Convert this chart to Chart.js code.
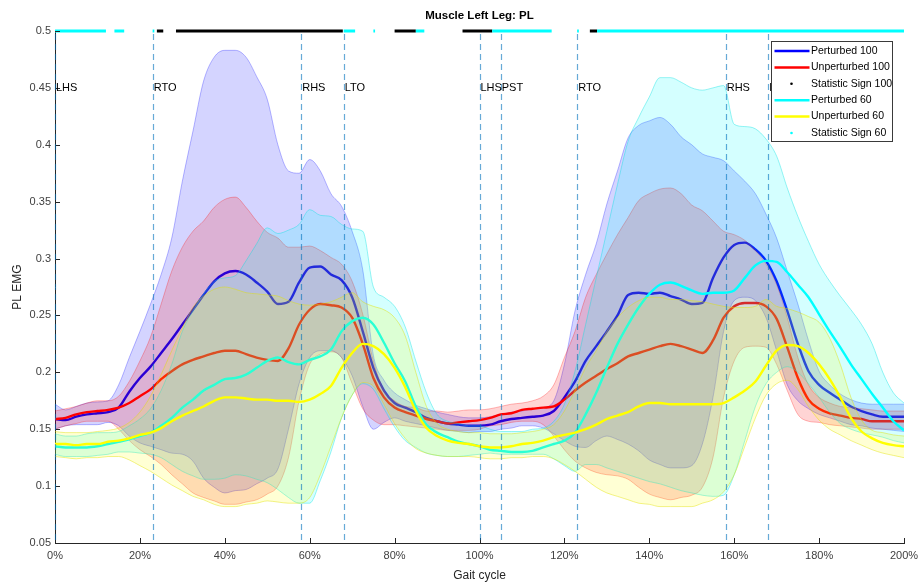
<!DOCTYPE html>
<html>
<head>
<meta charset="utf-8">
<script src="https://cdn.jsdelivr.net/npm/chart.js@4.4.1/dist/chart.umd.min.js"></script>
<style>
  html, body { margin: 0; padding: 0; background: #fff; }
  canvas { display: block; }
</style>
</head>
<body>
<canvas id="emg" width="921" height="588"></canvas>
<script>
// Gait cycle samples (% of cycle, two strides)
const gaitPct = [
  0, 2.5, 5, 7.5, 10, 12.5, 15, 17.5, 20, 22.5,
  25, 27.5, 30, 32.5, 35, 37.5, 40, 42.5, 45, 47.5,
  50, 52.5, 55, 57.5, 60, 62.5, 65, 67.5, 70, 72.5,
  75, 77.5, 80, 82.5, 85, 87.5, 90, 92.5, 95, 97.5,
  100, 102.5, 105, 107.5, 110, 112.5, 115, 117.5, 120, 122.5,
  125, 127.5, 130, 132.5, 135, 137.5, 140, 142.5, 145, 147.5,
  150, 152.5, 155, 157.5, 160, 162.5, 165, 167.5, 170, 172.5,
  175, 177.5, 180, 182.5, 185, 187.5, 190, 192.5, 195, 197.5,
  200
];

// Mean PL EMG envelopes
const perturbed100 = [
  0.159,0.158,0.161,0.163,0.164,0.165,0.169,0.183,0.195,0.205,
  0.217,0.229,0.242,0.255,0.268,0.280,0.287,0.289,0.286,0.279,
  0.271,0.260,0.262,0.279,0.292,0.293,0.286,0.281,0.266,0.236,
  0.204,0.184,0.173,0.169,0.165,0.160,0.157,0.155,0.154,0.153,
  0.153,0.154,0.157,0.159,0.160,0.161,0.162,0.166,0.178,0.192,
  0.210,0.223,0.236,0.250,0.268,0.270,0.269,0.270,0.267,0.264,
  0.260,0.261,0.283,0.301,0.312,0.314,0.308,0.298,0.280,0.254,
  0.225,0.201,0.189,0.182,0.176,0.170,0.166,0.163,0.161,0.161,
  0.161
];
const unperturbed100 = [
  0.159,0.160,0.163,0.165,0.166,0.167,0.169,0.173,0.179,0.185,
  0.194,0.201,0.207,0.211,0.214,0.217,0.219,0.219,0.216,0.213,
  0.211,0.210,0.221,0.242,0.255,0.260,0.259,0.257,0.248,0.225,
  0.195,0.178,0.169,0.165,0.162,0.159,0.157,0.155,0.156,0.157,
  0.158,0.160,0.163,0.164,0.167,0.168,0.169,0.170,0.176,0.184,
  0.191,0.197,0.203,0.208,0.214,0.217,0.220,0.223,0.225,0.223,
  0.220,0.217,0.228,0.248,0.258,0.261,0.261,0.258,0.247,0.222,
  0.195,0.176,0.168,0.164,0.162,0.160,0.159,0.157,0.157,0.157,
  0.157
];
const perturbed60 = [
  0.135,0.134,0.134,0.134,0.135,0.137,0.139,0.141,0.144,0.147,
  0.153,0.160,0.169,0.176,0.184,0.189,0.194,0.195,0.198,0.204,
  0.210,0.213,0.209,0.207,0.211,0.214,0.220,0.236,0.245,0.248,
  0.242,0.226,0.208,0.192,0.170,0.154,0.147,0.143,0.139,0.137,
  0.135,0.132,0.131,0.130,0.130,0.131,0.134,0.137,0.140,0.147,
  0.163,0.182,0.204,0.225,0.242,0.257,0.269,0.277,0.279,0.276,
  0.272,0.269,0.270,0.270,0.272,0.283,0.294,0.298,0.297,0.288,
  0.277,0.266,0.251,0.236,0.222,0.207,0.194,0.181,0.169,0.157,
  0.149
];
const unperturbed60 = [
  0.137,0.137,0.136,0.137,0.137,0.139,0.140,0.142,0.145,0.147,
  0.151,0.157,0.162,0.166,0.170,0.175,0.178,0.178,0.177,0.176,
  0.176,0.175,0.175,0.174,0.176,0.181,0.188,0.204,0.217,0.225,
  0.223,0.216,0.204,0.187,0.166,0.151,0.144,0.140,0.138,0.137,
  0.135,0.134,0.134,0.135,0.137,0.138,0.140,0.143,0.145,0.147,
  0.150,0.154,0.159,0.162,0.165,0.170,0.173,0.173,0.172,0.172,
  0.172,0.172,0.172,0.173,0.178,0.184,0.192,0.206,0.219,0.224,
  0.223,0.217,0.207,0.194,0.178,0.160,0.148,0.142,0.138,0.136,
  0.135
];

// Variability bands (upper / lower bounds)
const perturbed100Upper = [
  0.172,0.167,0.170,0.173,0.174,0.175,0.189,0.213,0.236,0.260,
  0.286,0.318,0.368,0.412,0.456,0.477,0.483,0.483,0.477,0.460,
  0.440,0.400,0.377,0.375,0.387,0.377,0.357,0.346,0.324,0.290,
  0.215,0.193,0.182,0.176,0.171,0.168,0.165,0.163,0.161,0.160,
  0.160,0.161,0.163,0.165,0.166,0.168,0.169,0.175,0.207,0.254,
  0.286,0.313,0.348,0.377,0.406,0.417,0.421,0.424,0.418,0.407,
  0.400,0.392,0.389,0.386,0.377,0.368,0.357,0.339,0.318,0.289,
  0.260,0.228,0.201,0.189,0.181,0.176,0.173,0.172,0.172,0.172,
  0.172
];
const perturbed100Lower = [
  0.150,0.153,0.154,0.154,0.154,0.156,0.153,0.144,0.138,0.135,
  0.132,0.129,0.128,0.122,0.107,0.099,0.094,0.096,0.097,0.102,
  0.107,0.115,0.150,0.190,0.213,0.219,0.219,0.213,0.197,0.170,
  0.150,0.156,0.160,0.157,0.155,0.153,0.151,0.149,0.148,0.147,
  0.148,0.148,0.150,0.151,0.153,0.153,0.151,0.146,0.140,0.135,
  0.134,0.140,0.144,0.141,0.137,0.131,0.123,0.119,0.116,0.116,
  0.118,0.137,0.178,0.236,0.263,0.266,0.263,0.248,0.219,0.189,
  0.175,0.168,0.163,0.160,0.157,0.154,0.153,0.151,0.150,0.149,
  0.148
];
const unperturbed100Upper = [
  0.166,0.168,0.170,0.173,0.175,0.175,0.179,0.192,0.210,0.231,
  0.260,0.289,0.310,0.324,0.333,0.345,0.352,0.354,0.345,0.333,
  0.323,0.318,0.310,0.310,0.311,0.307,0.301,0.295,0.280,0.251,
  0.210,0.184,0.175,0.170,0.169,0.166,0.166,0.165,0.166,0.167,
  0.167,0.168,0.170,0.172,0.173,0.175,0.179,0.189,0.213,0.236,
  0.266,0.286,0.304,0.321,0.336,0.351,0.357,0.361,0.362,0.357,
  0.347,0.342,0.333,0.324,0.321,0.316,0.307,0.295,0.277,0.248,
  0.213,0.189,0.178,0.173,0.170,0.169,0.168,0.167,0.166,0.166,
  0.166
];
const unperturbed100Lower = [
  0.150,0.153,0.155,0.157,0.157,0.157,0.150,0.140,0.132,0.126,
  0.119,0.110,0.102,0.094,0.090,0.087,0.084,0.084,0.086,0.088,
  0.093,0.100,0.125,0.175,0.207,0.216,0.218,0.213,0.190,0.168,
  0.158,0.154,0.154,0.153,0.152,0.151,0.150,0.149,0.149,0.149,
  0.150,0.153,0.154,0.156,0.157,0.157,0.154,0.144,0.132,0.122,
  0.116,0.112,0.110,0.109,0.106,0.099,0.093,0.090,0.088,0.090,
  0.092,0.099,0.125,0.178,0.210,0.222,0.223,0.222,0.207,0.184,
  0.163,0.157,0.156,0.154,0.153,0.152,0.151,0.150,0.150,0.150,
  0.150
];
const perturbed60Upper = [
  0.146,0.144,0.144,0.146,0.147,0.147,0.148,0.153,0.159,0.168,
  0.184,0.207,0.236,0.254,0.269,0.280,0.283,0.285,0.298,0.313,
  0.327,0.322,0.325,0.330,0.343,0.338,0.337,0.330,0.326,0.324,
  0.275,0.266,0.258,0.240,0.210,0.182,0.163,0.157,0.155,0.153,
  0.153,0.150,0.148,0.148,0.148,0.150,0.151,0.157,0.172,0.201,
  0.242,0.283,0.324,0.365,0.403,0.424,0.442,0.459,0.459,0.455,
  0.450,0.448,0.450,0.452,0.418,0.416,0.414,0.405,0.390,0.362,
  0.337,0.315,0.295,0.280,0.267,0.255,0.242,0.225,0.200,0.182,
  0.173
];
const perturbed60Lower = [
  0.128,0.126,0.126,0.126,0.127,0.128,0.130,0.130,0.129,0.128,
  0.125,0.119,0.113,0.109,0.106,0.106,0.107,0.110,0.109,0.106,
  0.103,0.097,0.090,0.085,0.085,0.105,0.130,0.160,0.180,0.190,
  0.185,0.168,0.152,0.140,0.134,0.129,0.127,0.126,0.126,0.127,
  0.128,0.129,0.128,0.128,0.128,0.128,0.128,0.124,0.118,0.113,
  0.119,0.119,0.116,0.113,0.110,0.107,0.104,0.102,0.099,0.096,
  0.094,0.092,0.091,0.092,0.110,0.140,0.170,0.190,0.200,0.205,
  0.200,0.190,0.178,0.165,0.155,0.150,0.147,0.145,0.143,0.140,
  0.138
];
const unperturbed60Upper = [
  0.148,0.147,0.147,0.147,0.148,0.149,0.151,0.156,0.165,0.179,
  0.198,0.219,0.239,0.257,0.267,0.273,0.275,0.273,0.270,0.269,
  0.268,0.267,0.263,0.260,0.259,0.260,0.262,0.266,0.270,0.262,
  0.258,0.255,0.248,0.232,0.200,0.170,0.155,0.150,0.148,0.147,
  0.147,0.146,0.146,0.146,0.147,0.148,0.150,0.154,0.166,0.184,
  0.204,0.219,0.236,0.248,0.257,0.263,0.266,0.266,0.264,0.264,
  0.263,0.262,0.260,0.258,0.257,0.257,0.258,0.264,0.258,0.256,
  0.253,0.249,0.244,0.230,0.207,0.178,0.158,0.149,0.147,0.145,
  0.144
];
const unperturbed60Lower = [
  0.126,0.125,0.124,0.125,0.125,0.126,0.126,0.123,0.118,0.113,
  0.107,0.101,0.096,0.091,0.088,0.084,0.082,0.082,0.084,0.085,
  0.087,0.086,0.085,0.085,0.090,0.110,0.135,0.160,0.180,0.191,
  0.188,0.172,0.155,0.142,0.133,0.129,0.127,0.126,0.126,0.126,
  0.125,0.124,0.124,0.125,0.125,0.126,0.126,0.124,0.119,0.113,
  0.106,0.099,0.094,0.091,0.088,0.085,0.084,0.082,0.082,0.082,
  0.082,0.085,0.088,0.095,0.110,0.135,0.160,0.180,0.190,0.193,
  0.185,0.170,0.158,0.150,0.145,0.140,0.136,0.132,0.129,0.127,
  0.125
];

// Statistically significant stretches (% of cycle), marked along the top
const sig100Start = [24, 28.5, 80, 96, 126];
const sig100End   = [25.5, 67.8, 85, 103, 127.7];
const sig60Start  = [0, 14, 23, 68, 75, 85, 103, 123, 127.7];
const sig60End    = [12, 16.3, 23.4, 70.7, 75.4, 87, 117, 123.4, 200];
const sigLevel = 0.5;

// Gait events
const eventPct    = [0, 23, 58, 68, 100, 105, 123, 158, 168];
const eventLabels = ['LHS', 'RTO', 'RHS', 'LTO', 'LHS', 'PST', 'RTO', 'RHS', 'LTO'];
const eventLabelLevel = 0.45;

// Axis ticks
const xTickStep = 20;
const yTickStep = 0.05;

const FONT = '"Liberation Sans", Arial, Helvetica, sans-serif';
Chart.defaults.font.family = FONT;

const toPoints = arr => gaitPct.map((x, i) => ({ x, y: arr[i] }));
const toSegments = (starts, ends) => {
  const pts = [];
  starts.forEach((s, i) => {
    pts.push({ x: s, y: sigLevel }, { x: ends[i], y: sigLevel }, { x: ends[i], y: null });
  });
  return pts;
};

const meanLine = (label, values, color, order, legendRow) => ({
  label, data: toPoints(values), borderColor: color, backgroundColor: color,
  borderWidth: 2.4, pointRadius: 0, fill: false, order, legendRow,
  cubicInterpolationMode: 'monotone'
});
const bandEdge = (values, edge, fillColor, order, fillTo) => ({
  label: '', data: toPoints(values), borderColor: edge, borderWidth: 1,
  backgroundColor: fillColor, pointRadius: 0, fill: fillTo, order,
  cubicInterpolationMode: 'monotone'
});

const datasets = [
  // significance marks
  { label: 'Statistic Sign 100', data: toSegments(sig100Start, sig100End), borderColor: '#000000',
    backgroundColor: '#000000', borderWidth: 3, pointRadius: 0, fill: false, spanGaps: false,
    clip: false, order: 1, legendRow: 2, legendDot: true },
  { label: 'Statistic Sign 60', data: toSegments(sig60Start, sig60End), borderColor: '#00ffff',
    backgroundColor: '#00ffff', borderWidth: 3, pointRadius: 0, fill: false, spanGaps: false,
    clip: false, order: 0, legendRow: 5, legendDot: true },
  // means
  meanLine('Perturbed 100', perturbed100, '#0000ff', 8, 0),
  meanLine('Unperturbed 100', unperturbed100, '#ff0000', 6, 1),
  meanLine('Perturbed 60', perturbed60, '#00ffff', 4, 3),
  meanLine('Unperturbed 60', unperturbed60, '#ffff00', 2, 4),
  // bands: upper fills down to the following lower bound
  bandEdge(perturbed100Upper, 'rgba(0,0,255,0.28)', 'rgba(0,0,255,0.17)', 9, '+1'),
  bandEdge(perturbed100Lower, 'rgba(0,0,255,0.28)', 'rgba(0,0,0,0)', 9, false),
  bandEdge(unperturbed100Upper, 'rgba(255,0,0,0.28)', 'rgba(255,0,0,0.17)', 7, '+1'),
  bandEdge(unperturbed100Lower, 'rgba(255,0,0,0.28)', 'rgba(0,0,0,0)', 7, false),
  bandEdge(perturbed60Upper, 'rgba(0,225,225,0.4)', 'rgba(0,255,255,0.17)', 5, '+1'),
  bandEdge(perturbed60Lower, 'rgba(0,225,225,0.4)', 'rgba(0,0,0,0)', 5, false),
  bandEdge(unperturbed60Upper, 'rgba(225,225,0,0.45)', 'rgba(255,255,0,0.17)', 3, '+1'),
  bandEdge(unperturbed60Lower, 'rgba(225,225,0,0.45)', 'rgba(0,0,0,0)', 3, false)
];

// Gait event markers, inward ticks, titles and the legend box
const decorations = {
  id: 'decorations',
  afterDatasetsDraw(chart) {
    const { ctx, chartArea: a, scales: { x, y } } = chart;
    ctx.save();
    // inward tick marks
    ctx.strokeStyle = '#262626';
    ctx.lineWidth = 1;
    ctx.beginPath();
    y.ticks.forEach(t => {
      const py = Math.round(y.getPixelForValue(t.value)) + 0.5;
      ctx.moveTo(a.left, py); ctx.lineTo(a.left + 5, py);
    });
    x.ticks.forEach(t => {
      const px = Math.round(x.getPixelForValue(t.value)) + 0.5;
      ctx.moveTo(px, a.bottom); ctx.lineTo(px, a.bottom - 5);
    });
    ctx.stroke();
    // dashed event lines
    ctx.strokeStyle = 'rgba(0,114,189,0.6)';
    ctx.lineWidth = 1.2;
    ctx.setLineDash([6, 4]);
    eventPct.forEach(p => {
      const px = Math.round(x.getPixelForValue(p)) + 0.5;
      ctx.beginPath();
      ctx.moveTo(px, a.top + 3);
      ctx.lineTo(px, a.bottom);
      ctx.stroke();
    });
    ctx.setLineDash([]);
    // event labels
    ctx.fillStyle = '#000';
    ctx.font = '11px ' + FONT;
    ctx.textAlign = 'left';
    ctx.textBaseline = 'middle';
    const ly = y.getPixelForValue(eventLabelLevel);
    eventPct.forEach((p, i) => ctx.fillText(eventLabels[i], x.getPixelForValue(p) + 1, ly));
    ctx.restore();
  },
  afterDraw(chart) {
    const { ctx, chartArea: a } = chart;
    ctx.save();
    // title
    ctx.fillStyle = '#000';
    ctx.font = 'bold 11.5px ' + FONT;
    ctx.textAlign = 'center';
    ctx.textBaseline = 'middle';
    ctx.fillText('Muscle Left Leg: PL', (a.left + a.right) / 2, 16);
    // axis titles
    ctx.fillStyle = '#262626';
    ctx.font = '12px ' + FONT;
    ctx.fillText('Gait cycle', (a.left + a.right) / 2, 576);
    ctx.save();
    ctx.translate(18, (a.top + a.bottom) / 2);
    ctx.rotate(-Math.PI / 2);
    ctx.fillText('PL EMG', 0, 0);
    ctx.restore();

    // legend
    const rows = chart.data.datasets
      .filter(d => d.legendRow !== undefined)
      .sort((p, q) => p.legendRow - q.legendRow);
    const bx = a.right - 132.5, by = a.top + 10.5, bw = 121, bh = 100;
    ctx.fillStyle = '#fff';
    ctx.fillRect(bx, by, bw, bh);
    ctx.strokeStyle = '#3a3a3a';
    ctx.lineWidth = 1;
    ctx.strokeRect(bx, by, bw, bh);
    ctx.font = '10.5px ' + FONT;
    ctx.textAlign = 'left';
    ctx.textBaseline = 'middle';
    rows.forEach((d, i) => {
      const ry = by + 9.5 + i * 16.4;
      if (d.legendDot) {
        ctx.fillStyle = d.borderColor;
        ctx.beginPath();
        ctx.arc(bx + 20, ry, 1.3, 0, Math.PI * 2);
        ctx.fill();
      } else {
        ctx.strokeStyle = d.borderColor;
        ctx.lineWidth = 2.5;
        ctx.beginPath();
        ctx.moveTo(bx + 3, ry);
        ctx.lineTo(bx + 38, ry);
        ctx.stroke();
      }
      ctx.fillStyle = '#000';
      ctx.fillText(d.label, bx + 39.5, ry);
    });
    ctx.restore();
  }
};

new Chart(document.getElementById('emg'), {
  type: 'line',
  data: { datasets },
  options: {
    responsive: false,
    animation: false,
    devicePixelRatio: 1,
    layout: { padding: { top: 31, right: 17, left: 0, bottom: 0 } },
    plugins: {
      legend: { display: false },
      tooltip: { enabled: false },
      title: { display: false }
    },
    elements: { line: { borderCapStyle: 'butt' } },
    scales: {
      x: {
        type: 'linear', min: 0, max: 200,
        ticks: {
          stepSize: xTickStep, padding: 6, color: '#404040',
          font: { size: 11 }, maxRotation: 0, autoSkip: false,
          callback: v => v + '%'
        },
        grid: { display: false, drawTicks: false },
        border: { display: true, color: '#262626', width: 1 },
        afterFit: s => { s.height = 45; s.paddingLeft = 0; s.paddingRight = 0; }
      },
      y: {
        type: 'linear', min: 0.05, max: 0.5,
        ticks: {
          stepSize: yTickStep, padding: 4, color: '#404040',
          font: { size: 11 },
          callback: v => String(Number(v.toFixed(2)))
        },
        grid: { display: false, drawTicks: false },
        border: { display: true, color: '#262626', width: 1 },
        afterFit: s => { s.width = 55; s.paddingTop = 0; s.paddingBottom = 0; }
      }
    }
  },
  plugins: [decorations]
});
</script>
</body>
</html>
